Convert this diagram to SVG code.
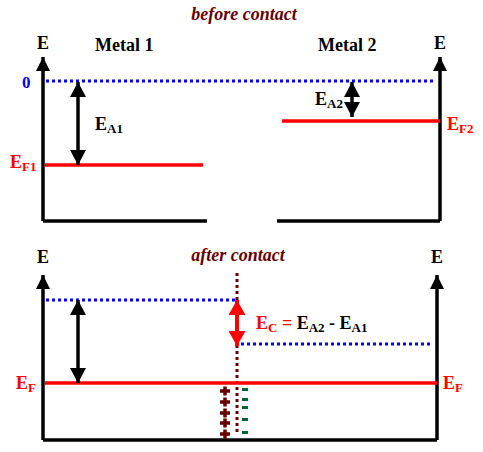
<svg xmlns="http://www.w3.org/2000/svg" width="483" height="452" viewBox="0 0 483 452">
<defs>
<style>
text{font-family:"Liberation Serif","DejaVu Serif","Times New Roman",serif;font-weight:bold}
.t{font-size:18px}
.s{font-size:13px}
.title{font-size:18px;font-style:italic;fill:#660000}
.red{fill:#ff0000}
.axis{stroke:#000;stroke-width:3.5;fill:none}
.dotb{stroke:#0000ff;stroke-width:3;stroke-dasharray:3 3;fill:none}
.dotr{stroke:#660000;stroke-width:3;stroke-dasharray:3 3;fill:none}
.lvl{stroke:#ff0000;stroke-width:3.5;fill:none}
.dbl{stroke:#000;stroke-width:3.5;fill:none}
.plus{stroke:#660000;stroke-width:3.5;fill:none}
</style>
<marker id="ax" markerUnits="userSpaceOnUse" markerWidth="14" markerHeight="14" refX="14" refY="7" orient="auto" viewBox="0 0 14 14"><path d="M0,0L14,7L0,14z" fill="#000"/></marker>
<marker id="ah" markerUnits="userSpaceOnUse" markerWidth="15" markerHeight="16" refX="15" refY="8" orient="auto-start-reverse" viewBox="0 0 15 16"><path d="M0,0L15,8L0,16z" fill="#000"/></marker>
<marker id="ahr" markerUnits="userSpaceOnUse" markerWidth="15" markerHeight="17" refX="15" refY="8.5" orient="auto-start-reverse" viewBox="0 0 15 17"><path d="M0,0L15,8.5L0,17z" fill="#ff0000"/></marker>
</defs>
<rect width="483" height="452" fill="#fff"/>
<text class="title" x="244" y="20" text-anchor="middle">before contact</text>
<text class="title" x="238" y="261" text-anchor="middle">after contact</text>
<g id="connectors">
<path class="axis" d="M43,221V57" marker-end="url(#ax)"/>
<path class="axis" d="M43,221H207"/>
<path class="axis" d="M440,221V57" marker-end="url(#ax)"/>
<path class="axis" d="M277,221H440"/>
<path class="axis" d="M43,440V275" marker-end="url(#ax)"/>
<path class="axis" d="M43,440H437"/>
<path class="axis" d="M437,440V275" marker-end="url(#ax)"/>
<path class="dotb" d="M46,81H435"/>
<path class="lvl" d="M45,165H203"/>
<path class="lvl" d="M282,121H440"/>
<path class="dbl" d="M78,82V165" marker-start="url(#ah)" marker-end="url(#ah)"/>
<path class="dbl" d="M352,82V117" marker-start="url(#ah)" marker-end="url(#ah)"/>
<path class="dotb" d="M46,300H237"/>
<path class="dotb" d="M241,344H432"/>
<path class="dotr" d="M237,273V435"/>
<path class="lvl" d="M45,383H437"/>
<path class="dbl" d="M78,300V383" marker-start="url(#ah)" marker-end="url(#ah)"/>
<path d="M237,300V346" stroke="#ff0000" stroke-width="4" fill="none" marker-start="url(#ahr)" marker-end="url(#ahr)"/>
</g>
<g id="labels-top">
<text class="t" x="37" y="49">E</text>
<text class="t" x="434" y="49">E</text>
<text class="t" x="95" y="51">Metal 1</text>
<text class="t" x="318" y="51">Metal 2</text>
<text x="22" y="88" font-size="17" fill="#0000ff">0</text>
<text class="t" x="95" y="130">E<tspan class="s" dy="3">A1</tspan></text>
<text class="t" x="315" y="105">E<tspan class="s" dy="3">A2</tspan></text>
<text class="t red" x="10" y="168">E<tspan class="s" dy="3">F1</tspan></text>
<text class="t red" x="447" y="130">E<tspan class="s" dy="3">F2</tspan></text>
</g>
<g id="labels-bottom">
<text class="t" x="37" y="263">E</text>
<text class="t" x="431" y="263">E</text>
<text class="t red" x="16" y="389">E<tspan class="s" dy="3">F</tspan></text>
<text class="t red" x="443" y="389">E<tspan class="s" dy="3">F</tspan></text>
<text class="t" x="256" y="329"><tspan fill="#ff0000">E</tspan><tspan class="s" dy="3" fill="#ff0000">C</tspan><tspan dy="-3" fill="#ff0000"> =</tspan><tspan> E</tspan><tspan class="s" dy="3">A2</tspan><tspan dy="-3"> - E</tspan><tspan class="s" dy="3">A1</tspan></text>
</g>
<g id="charges">
<path class="plus" d="M220,391h10M225,386.5v9"/>
<path class="plus" d="M220,402h10M225,397.5v9"/>
<path class="plus" d="M220,413h10M225,408.5v9"/>
<path class="plus" d="M220,423h10M225,418.5v9"/>
<path class="plus" d="M220,434h10M225,429.5v9"/>
<g fill="#006633">
<rect x="242" y="388" width="6" height="3"/>
<rect x="242" y="398" width="6" height="3"/>
<rect x="242" y="406" width="6" height="3"/>
<rect x="242" y="418" width="6" height="3"/>
<rect x="242" y="431" width="6" height="3"/>
</g>
</g>
</svg>
